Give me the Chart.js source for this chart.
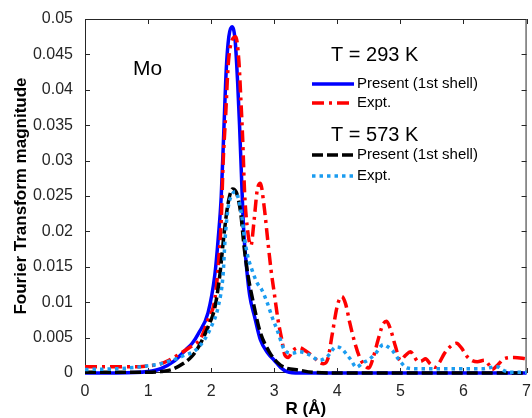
<!DOCTYPE html>
<html>
<head>
<meta charset="utf-8">
<script src="https://cdn.jsdelivr.net/npm/chart.js@4.4.0/dist/chart.umd.min.js"></script>
<style>
  html, body { margin: 0; padding: 0; background: #fff; }
</style>
</head>
<body>
<canvas id="ftChart" width="532" height="418"></canvas>
<script>
// Data: R in angstrom, FT magnitude
const xTicks = [0, 1, 2, 3, 4, 5, 6, 7];
const yTicks = [0, 0.005, 0.01, 0.015, 0.02, 0.025, 0.03, 0.035, 0.04, 0.045, 0.05];
const yTickLabels = ['0', '0.005', '0.01', '0.015', '0.02', '0.025', '0.03', '0.035', '0.04', '0.045', '0.05'];

// T = 293 K, present (1st shell)
const rPresent293 = [0, 0.5, 1.0, 1.2, 1.4, 1.6, 1.7, 1.8, 1.95, 2.06, 2.11, 2.16, 2.2, 2.24, 2.28, 2.33, 2.38, 2.42, 2.45, 2.48, 2.51, 2.55, 2.61, 2.69, 2.78, 2.9, 3.0, 3.1, 3.2, 3.4, 4, 5, 6, 7];
const present293 = [0, 0, 0.0002, 0.0006, 0.0016, 0.0033, 0.0042, 0.0056, 0.0085, 0.014, 0.0188, 0.025, 0.034, 0.043, 0.0475, 0.0489, 0.047, 0.041, 0.035, 0.028, 0.021, 0.016, 0.011, 0.0079, 0.0047, 0.0028, 0.0018, 0.0008, 0.0002, 0, 0, 0, 0, 0];

// T = 293 K, experiment
const rExpt293 = [0, 0.5, 0.86, 1.0, 1.2, 1.33, 1.5, 1.64, 1.84, 1.95, 2.06, 2.12, 2.16, 2.19, 2.23, 2.27, 2.33, 2.39, 2.44, 2.47, 2.5, 2.53, 2.58, 2.63, 2.68, 2.73, 2.78, 2.84, 2.9, 2.95, 3.0, 3.06, 3.12, 3.17, 3.22, 3.3, 3.39, 3.5, 3.62, 3.7, 3.78, 3.85, 3.92, 4.0, 4.07, 4.13, 4.2, 4.27, 4.35, 4.42, 4.5, 4.57, 4.65, 4.72, 4.78, 4.85, 4.92, 5.0, 5.08, 5.16, 5.22, 5.28, 5.34, 5.4, 5.47, 5.55, 5.62, 5.7, 5.8, 5.89, 5.97, 6.06, 6.15, 6.22, 6.33, 6.4, 6.45, 6.55, 6.64, 6.8, 7.0];
const expt293 = [0.0009, 0.0009, 0.0009, 0.001, 0.0013, 0.0018, 0.0027, 0.0035, 0.005, 0.0075, 0.0105, 0.016, 0.0216, 0.0297, 0.0364, 0.0435, 0.047, 0.0475, 0.044, 0.0388, 0.033, 0.0255, 0.02, 0.018, 0.0215, 0.0258, 0.0268, 0.0235, 0.0185, 0.0145, 0.0113, 0.0075, 0.0047, 0.0025, 0.0022, 0.0032, 0.0036, 0.0031, 0.0023, 0.0016, 0.0013, 0.002, 0.0055, 0.0095, 0.0108, 0.0098, 0.007, 0.0045, 0.0023, 0.0012, 0.0007, 0.0022, 0.0048, 0.0068, 0.0073, 0.006, 0.0038, 0.0018, 0.0025, 0.003, 0.0023, 0.0016, 0.0017, 0.002, 0.0013, 0.0008, 0.0015, 0.0028, 0.0038, 0.0042, 0.0035, 0.0023, 0.0017, 0.0016, 0.0018, 0.0012, 0.0005, 0.0012, 0.002, 0.0022, 0.002];

// T = 573 K, present (1st shell)
const rPresent573 = [0, 0.5, 1.0, 1.2, 1.38, 1.55, 1.69, 1.82, 1.95, 2.06, 2.14, 2.19, 2.23, 2.28, 2.34, 2.4, 2.47, 2.52, 2.58, 2.66, 2.77, 2.92, 3.05, 3.16, 3.4, 3.6, 4, 5, 6, 7];
const present573 = [0.0001, 0.0001, 0.0001, 0.0002, 0.0005, 0.0013, 0.0023, 0.004, 0.0065, 0.0093, 0.014, 0.0184, 0.0216, 0.0245, 0.026, 0.0255, 0.0225, 0.018, 0.014, 0.0103, 0.006, 0.003, 0.0015, 0.0008, 0.0004, 0.0001, 0, 0, 0, 0];

// T = 573 K, experiment
const rExpt573 = [0, 0.5, 0.8, 1.06, 1.2, 1.38, 1.55, 1.75, 1.9, 2.0, 2.11, 2.19, 2.22, 2.27, 2.33, 2.38, 2.42, 2.48, 2.53, 2.58, 2.65, 2.73, 2.8, 2.89, 2.97, 3.05, 3.16, 3.28, 3.4, 3.55, 3.72, 3.85, 3.98, 4.06, 4.15, 4.22, 4.3, 4.4, 4.5, 4.61, 4.73, 4.8, 4.87, 5.0, 5.11, 5.3, 5.6, 6.0, 6.3, 6.53, 6.65, 6.75, 7.0];
const expt573 = [0.0005, 0.0006, 0.0008, 0.0011, 0.0013, 0.0018, 0.0024, 0.0032, 0.0048, 0.0065, 0.0093, 0.014, 0.0188, 0.0234, 0.0252, 0.0256, 0.025, 0.0225, 0.019, 0.0165, 0.0145, 0.0127, 0.0118, 0.0099, 0.0078, 0.006, 0.0033, 0.0028, 0.003, 0.0026, 0.0018, 0.0024, 0.0037, 0.0035, 0.0026, 0.0018, 0.0008, 0.0014, 0.0019, 0.0028, 0.004, 0.0037, 0.0032, 0.0016, 0.0007, 0.0006, 0.0006, 0.0006, 0.0006, 0.0009, 0.0003, 0.0001, 0.0001];

const toPoints = (xs, ys) => xs.map((r, i) => ({ x: r, y: ys[i] }));

const series = [
  { label: 'Present (1st shell)', xs: rPresent293, ys: present293, color: '#0000ff', dash: [], order: 3 },
  { label: 'Expt.', xs: rExpt293, ys: expt293, color: '#ff0000', dash: [12, 5, 3, 5], order: 2 },
  { label: 'Present (1st shell)', xs: rPresent573, ys: present573, color: '#000000', dash: [11, 4], order: 1 },
  { label: 'Expt.', xs: rExpt573, ys: expt573, color: '#1b9cf0', dash: [3.5, 4], order: 0 }
];

const LW = 3.5;

// box + inward ticks, matlab style
const axesBox = {
  id: 'axesBox',
  beforeDatasetsDraw(chart) {
    const { ctx, chartArea: a, scales: { x, y } } = chart;
    ctx.save();
    ctx.strokeStyle = '#262626';
    ctx.lineWidth = 1;
    ctx.strokeRect(a.left + 0.5, a.top + 0.5, a.right - a.left - 1, a.bottom - a.top - 1);
    ctx.beginPath();
    xTicks.forEach(v => {
      const px = Math.round(x.getPixelForValue(v)) + 0.5;
      ctx.moveTo(px, a.bottom); ctx.lineTo(px, a.bottom - 5);
      ctx.moveTo(px, a.top); ctx.lineTo(px, a.top + 5);
    });
    yTicks.forEach(v => {
      const py = Math.round(y.getPixelForValue(v)) + 0.5;
      ctx.moveTo(a.left, py); ctx.lineTo(a.left + 5, py);
      ctx.moveTo(a.right, py); ctx.lineTo(a.right - 5, py);
    });
    ctx.stroke();
    ctx.restore();
  }
};

// legend with temperature headers + "Mo" label
const legendBox = {
  id: 'legendBox',
  afterDraw(chart) {
    const { ctx } = chart;
    ctx.save();
    ctx.fillStyle = '#000';
    ctx.textBaseline = 'middle';
    ctx.font = '21px "Liberation Sans", Arial, sans-serif';
    ctx.fillText('Mo', 133, 69);
    ctx.font = '20px "Liberation Sans", Arial, sans-serif';
    ctx.fillText('T = 293 K', 331, 55);
    ctx.fillText('T = 573 K', 331, 135);
    const rows = [84, 103, 155, 176];
    series.forEach((s, i) => {
      ctx.beginPath();
      ctx.strokeStyle = s.color;
      ctx.lineWidth = LW;
      ctx.setLineDash(s.dash);
      ctx.moveTo(312, rows[i]);
      ctx.lineTo(354, rows[i]);
      ctx.stroke();
      ctx.setLineDash([]);
      ctx.font = '15px "Liberation Sans", Arial, sans-serif';
      ctx.fillText(s.label, 357, rows[i]);
    });
    ctx.restore();
  }
};

new Chart(document.getElementById('ftChart'), {
  type: 'line',
  data: {
    datasets: series.map(s => ({
      label: s.label,
      data: toPoints(s.xs, s.ys),
      borderColor: s.color,
      borderWidth: LW,
      borderDash: s.dash,
      pointRadius: 0,
      cubicInterpolationMode: 'monotone',
      fill: false,
      clip: false,
      order: s.order
    }))
  },
  options: {
    responsive: false,
    animation: false,
    devicePixelRatio: 1,
    layout: { padding: { top: 19, right: 1, left: 0, bottom: 0 } },
    plugins: { legend: { display: false }, tooltip: { enabled: false } },
    scales: {
      x: {
        type: 'linear',
        min: 0,
        max: 7,
        afterBuildTicks: s => { s.ticks = xTicks.map(v => ({ value: v })); },
        afterFit: s => { s.height = 45; },
        grid: { display: false },
        border: { display: false },
        ticks: {
          padding: 1,
          color: '#262626',
          font: { family: '"Liberation Sans", Arial, sans-serif', size: 16 }
        },
        title: {
          display: true,
          text: 'R (Å)',
          color: '#000',
          padding: { top: 0, bottom: -2 },
          font: { family: '"Liberation Sans", Arial, sans-serif', size: 17, weight: 'bold' }
        }
      },
      y: {
        min: 0,
        max: 0.05,
        afterBuildTicks: s => { s.ticks = yTicks.map(v => ({ value: v })); },
        afterFit: s => { s.width = 85; },
        grid: { display: false },
        border: { display: false },
        ticks: {
          padding: 4,
          color: '#262626',
          callback: (v, i) => yTickLabels[i],
          font: { family: '"Liberation Sans", Arial, sans-serif', size: 16 }
        },
        title: {
          display: true,
          text: 'Fourier Transform magnitude',
          color: '#000',
          padding: { top: 11, bottom: 0 },
          font: { family: '"Liberation Sans", Arial, sans-serif', size: 17, weight: 'bold' }
        }
      }
    }
  },
  plugins: [axesBox, legendBox]
});
</script>
</body>
</html>
